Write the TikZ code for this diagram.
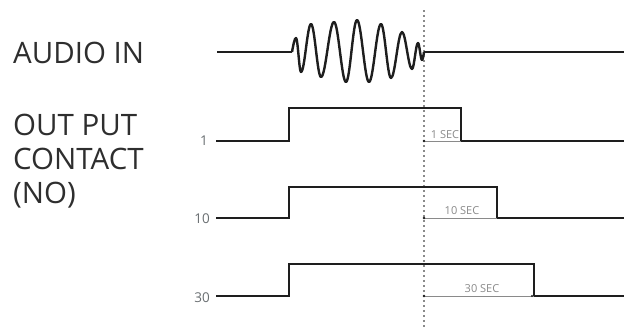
\documentclass[tikz,border=0pt]{standalone}
\usepackage{fontspec}
\setmainfont{Open Sans}
\definecolor{sig}{HTML}{1E1E1E}
\definecolor{lbl}{HTML}{2E2E2E}
\definecolor{num}{HTML}{6A6F72}
\definecolor{mark}{HTML}{8A8A8A}
\begin{document}
\begin{tikzpicture}[x=1pt,y=-1pt,
  signal/.style={draw=sig,line width=2.6pt,line join=miter},
  wave/.style={draw=sig,line width=2.4pt},
  biglbl/.style={inner sep=0pt,anchor=base west,text=lbl,font=\fontsize{29.5}{34}\selectfont},
  numlbl/.style={inner sep=0pt,anchor=base east,text=num,font=\fontsize{13.5}{16}\selectfont},
  seclbl/.style={inner sep=0pt,anchor=base,text=mark,font=\fontsize{11}{13}\selectfont},
  timeline/.style={draw=mark,line width=0.8pt},
  enddot/.style={fill=sig,draw=none},
  cutline/.style={draw=mark,line width=1.6pt,dash pattern=on 1.6pt off 3.4pt}]
\useasboundingbox (0,0) rectangle (624,327);
\fill[white] (0,0) rectangle (624,327);

% labels
\node[biglbl] (audio) at (13,63) {AUDIO IN};
\node[biglbl] (out1) at (13,135) {OUT PUT};
\node[biglbl] (out2) at (13,169) {CONTACT};
\node[biglbl] (out3) at (13,203) {(NO)};

\node[numlbl] (n1) at (208,145) {1};
\node[numlbl] (n10) at (210,223) {10};
\node[numlbl] (n30) at (210,302) {30};

% cut line
\coordinate (cutT) at (424,10);
\coordinate (cutB) at (424,327);
\draw[cutline] (cutT) -- (cutB);

% audio
\coordinate (aL) at (217,52);
\coordinate (aS) at (292,52);
\coordinate (aE) at (424,52);
\coordinate (aR) at (624,52);
\draw[wave] (aL) -- (aS);
\draw[wave,line join=round] (aS) sin (296,38) cos (298.5,55) sin (301,72)
  cos (306,48) sin (311,24) cos (316,50.5) sin (321,77)
  cos (327.5,49.5) sin (334,22) cos (340,52) sin (346,82)
  cos (351.5,51) sin (357,20) cos (363,51) sin (369,82)
  cos (375,53) sin (381,24) cos (386,51) sin (391,78)
  cos (396.5,55) sin (402,32) cos (407,50.5) sin (412,69)
  cos (415,56) sin (418,43) cos (420,51.5) sin (422,60) cos (aE);
\draw[wave] (aE) -- (aR);

% output 1
\coordinate (s1a) at (216,141);
\coordinate (s1r) at (289,141);
\coordinate (s1f) at (461,141);
\coordinate (s1e) at (624,141);
\draw[signal] (s1a) -- (s1r) -- (289,108) -- (461,108) -- (s1f) -- (s1e);
\coordinate (t1a) at (424,141);
\draw[timeline] (t1a) -- (s1f);
\fill[enddot] (t1a) circle (1.4);
\node[seclbl] (sec1) at (445,138) {1 SEC};

% output 10
\coordinate (s2a) at (216,218);
\coordinate (s2r) at (289,218);
\coordinate (s2f) at (497,218);
\coordinate (s2e) at (624,218);
\draw[signal] (s2a) -- (s2r) -- (289,187) -- (497,187) -- (s2f) -- (s2e);
\coordinate (t2a) at (424,218);
\draw[timeline] (t2a) -- (s2f);
\fill[enddot] (t2a) circle (1.4);
\node[seclbl] (sec10) at (462,214) {10 SEC};

% output 30
\coordinate (s3a) at (216,296);
\coordinate (s3r) at (289,296);
\coordinate (s3f) at (534,296);
\coordinate (s3e) at (624,296);
\draw[signal] (s3a) -- (s3r) -- (289,264) -- (534,264) -- (s3f) -- (s3e);
\coordinate (t3a) at (424,296);
\draw[timeline] (t3a) -- (s3f);
\fill[enddot] (t3a) circle (1.4);
\fill[enddot] (532,296) circle (1.2);
\node[seclbl] (sec30) at (482,292) {30 SEC};
\end{tikzpicture}
\end{document}
